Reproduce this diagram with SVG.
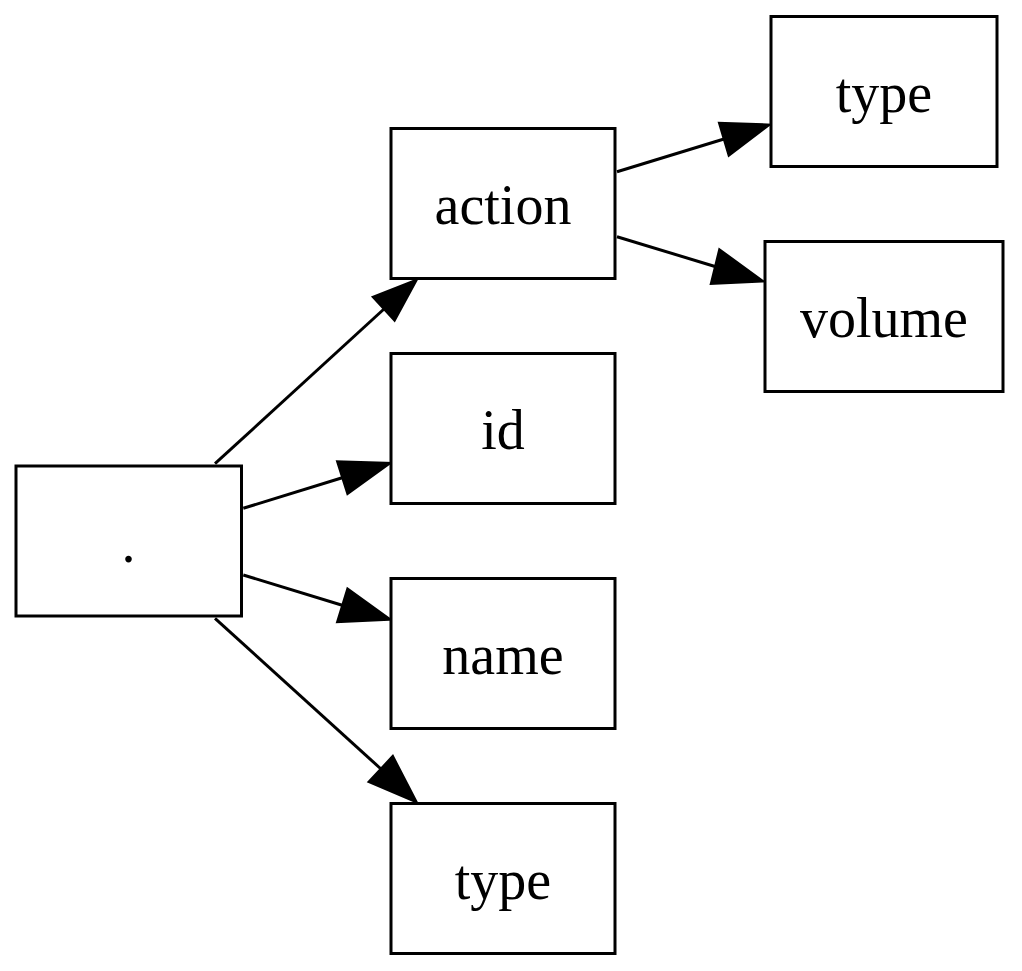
<svg xmlns="http://www.w3.org/2000/svg" width="1022" height="971" viewBox="0 0 1022 971">
<style>
.node rect{fill:#fff;stroke:#000;stroke-width:3}
.node text{font-family:"Liberation Serif","Times New Roman",serif;font-size:56px;text-anchor:middle;fill:#000}
.edges line{stroke:#000;stroke-width:3}
.edges polygon{fill:#000;stroke:#000;stroke-width:3;stroke-linejoin:miter}
</style>
<rect width="1022" height="971" fill="#fff"/>
<g class="edges" id="edges">
<line x1="215" y1="463.7" x2="384" y2="309"/>
<polygon points="416,280.3 394.5,320 373.5,297"/>
<line x1="243.3" y1="508.3" x2="343" y2="477.5"/>
<polygon points="389.3,463.3 347.7,493.3 337.7,461.7"/>
<line x1="243.3" y1="575" x2="343" y2="605.5"/>
<polygon points="389.3,619.3 337.7,621.7 347.7,589.3"/>
<line x1="215" y1="618.3" x2="381" y2="769"/>
<polygon points="416,801.7 369.3,781.7 392.7,756.7"/>
<line x1="617" y1="171.7" x2="724" y2="139"/>
<polygon points="768.4,125 729,155 719.6,123.3"/>
<line x1="617" y1="236.7" x2="715" y2="266.5"/>
<polygon points="762.3,281 711.4,283.3 719.6,250"/>
</g>
<g class="node" id="root"><rect x="16" y="466" width="225.5" height="150"/><text x="128.5" y="562">.</text></g>
<g class="node" id="action"><rect x="391" y="128.5" width="224" height="150"/><text x="503" y="224">action</text></g>
<g class="node" id="id"><rect x="391" y="353.5" width="224" height="150"/><text x="503" y="449">id</text></g>
<g class="node" id="name"><rect x="391" y="578.5" width="224" height="150"/><text x="503" y="674">name</text></g>
<g class="node" id="type2"><rect x="391" y="803.5" width="224" height="150"/><text x="503" y="899">type</text></g>
<g class="node" id="type1"><rect x="771" y="16.5" width="226" height="150"/><text x="884" y="112">type</text></g>
<g class="node" id="volume"><rect x="765" y="241.5" width="238" height="150"/><text x="884" y="337">volume</text></g>
</svg>
